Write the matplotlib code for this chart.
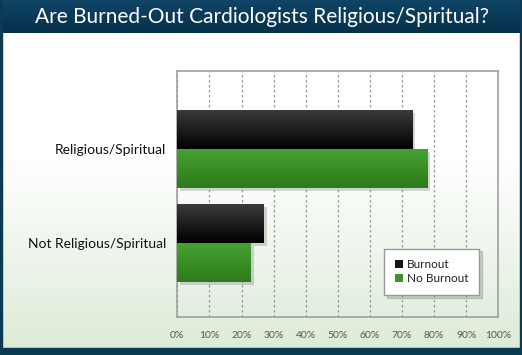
import matplotlib
matplotlib.use("Agg")
import matplotlib.pyplot as plt
import matplotlib.patheffects as pe
from matplotlib.colors import LinearSegmentedColormap
from matplotlib.patches import Rectangle, Patch
import numpy as np

plt.rcParams['font.family'] = ['Lato', 'DejaVu Sans']

categories = ['Not Religious/Spiritual', 'Religious/Spiritual']
burnout = [27, 73.3]
no_burnout = [23, 78]
series_names = ['Burnout', 'No Burnout']
xticks = [0, 10, 20, 30, 40, 50, 60, 70, 80, 90, 100]
xtick_labels = ['%d%%' % t for t in xticks]

W, H = 522, 355
fig = plt.figure(figsize=(W / 100, H / 100), dpi=100)

# background: white fading to pale green, dark blue frame
bg = fig.add_axes([0, 0, 1, 1], zorder=-10)
bg.set_axis_off()
t = np.linspace(0, 1, 256)
fade = np.clip((t - 0.45) / 0.55, 0, 1)
top_c = np.array([1.0, 1.0, 1.0])
bot_c = np.array([0.86, 0.92, 0.84])
grad = top_c[None, :] * (1 - fade[:, None]) + bot_c[None, :] * fade[:, None]
bg.imshow(grad[:, None, :], aspect='auto', extent=[0, 1, 0, 1], origin='upper')
navy = '#0b3a55'
tb = np.linspace(0, 1, 64)
title_grad = np.array([[0.06, 0.27, 0.40]]) * (1 - tb[:, None]) + np.array([[0.02, 0.19, 0.29]]) * tb[:, None]
bg.imshow(title_grad[:, None, :], aspect='auto', extent=[0, 1, 1 - 33 / H, 1], origin='upper')
bg.add_patch(Rectangle((0, 0), 1, 7 / H, color=navy))
bg.add_patch(Rectangle((0, 0), 2 / W, 1, color=navy))
bg.add_patch(Rectangle((1 - 2 / W, 0), 2 / W, 1, color=navy))
bg.set_xlim(0, 1)
bg.set_ylim(0, 1)
fig.text(262 / W, 1 - 17 / H, 'Are Burned-Out Cardiologists Religious/Spiritual?',
         color='white', fontsize=15, ha='center', va='center')

ax = fig.add_axes([177.3 / W, 38 / H, 321 / W, 246 / H])
ax.patch.set_alpha(0)

y = np.arange(len(categories))
h = 0.415
shadow = [pe.SimplePatchShadow(offset=(2, -2), shadow_rgbFace='#777777', alpha=0.3), pe.Normal()]

black_cmap = LinearSegmentedColormap.from_list('blk', ['#3c3c3c', '#000000'])
green_cmap = LinearSegmentedColormap.from_list('grn', ['#45a32f', '#2e7a1e'])


def gradient_bars(bars, cmap):
    for b in bars:
        x0, y0 = b.get_x(), b.get_y()
        w, hh = b.get_width(), b.get_height()
        im = ax.imshow(np.linspace(0, 1, 64)[:, None], cmap=cmap, aspect='auto',
                       extent=[x0, x0 + w, y0, y0 + hh], origin='upper', zorder=3)
        im.set_clip_path(b)


b1 = ax.barh(y + h / 2, burnout, height=h, color='#111111', zorder=2, path_effects=shadow)
b2 = ax.barh(y - h / 2, no_burnout, height=h, color='#37901f', zorder=2, path_effects=shadow)
gradient_bars(b1, black_cmap)
gradient_bars(b2, green_cmap)

ax.set_xlim(0, 100)
ax.set_ylim(-0.787, 1.83)
ax.set_xticks(xticks)
ax.set_xticklabels(xtick_labels, color='#555555', fontsize=7.5)
ax.set_yticks(y)
ax.set_yticklabels(categories, fontsize=10, color='#111111')
ax.tick_params(axis='x', length=0, pad=10)
ax.tick_params(axis='y', length=0, pad=8)
ax.xaxis.grid(True, linestyle=(0, (2, 2)), color='#999999', linewidth=0.9)
ax.set_axisbelow(True)
for s in ax.spines.values():
    s.set_color('#a0a0a0')
    s.set_linewidth(1.2)

handles = [Patch(facecolor='#151515', edgecolor='none', label=series_names[0]),
           Patch(facecolor='#3a9426', edgecolor='none', label=series_names[1])]
leg = ax.legend(handles=handles, loc='lower right', bbox_to_anchor=(0.94, 0.09),
                fontsize=8.5, frameon=True, fancybox=False,
                shadow={'color': '#888888', 'alpha': 0.35},
                handlelength=0.7, handleheight=0.7, handletextpad=0.3,
                borderpad=0.9, labelspacing=0.25, borderaxespad=0)
leg.get_frame().set_edgecolor('#999999')
leg.get_frame().set_linewidth(1.0)
leg._legend_box.sep = 0
for t_ in leg.get_texts():
    t_.set_color('#222222')

fig.savefig('out.png', dpi=100)
